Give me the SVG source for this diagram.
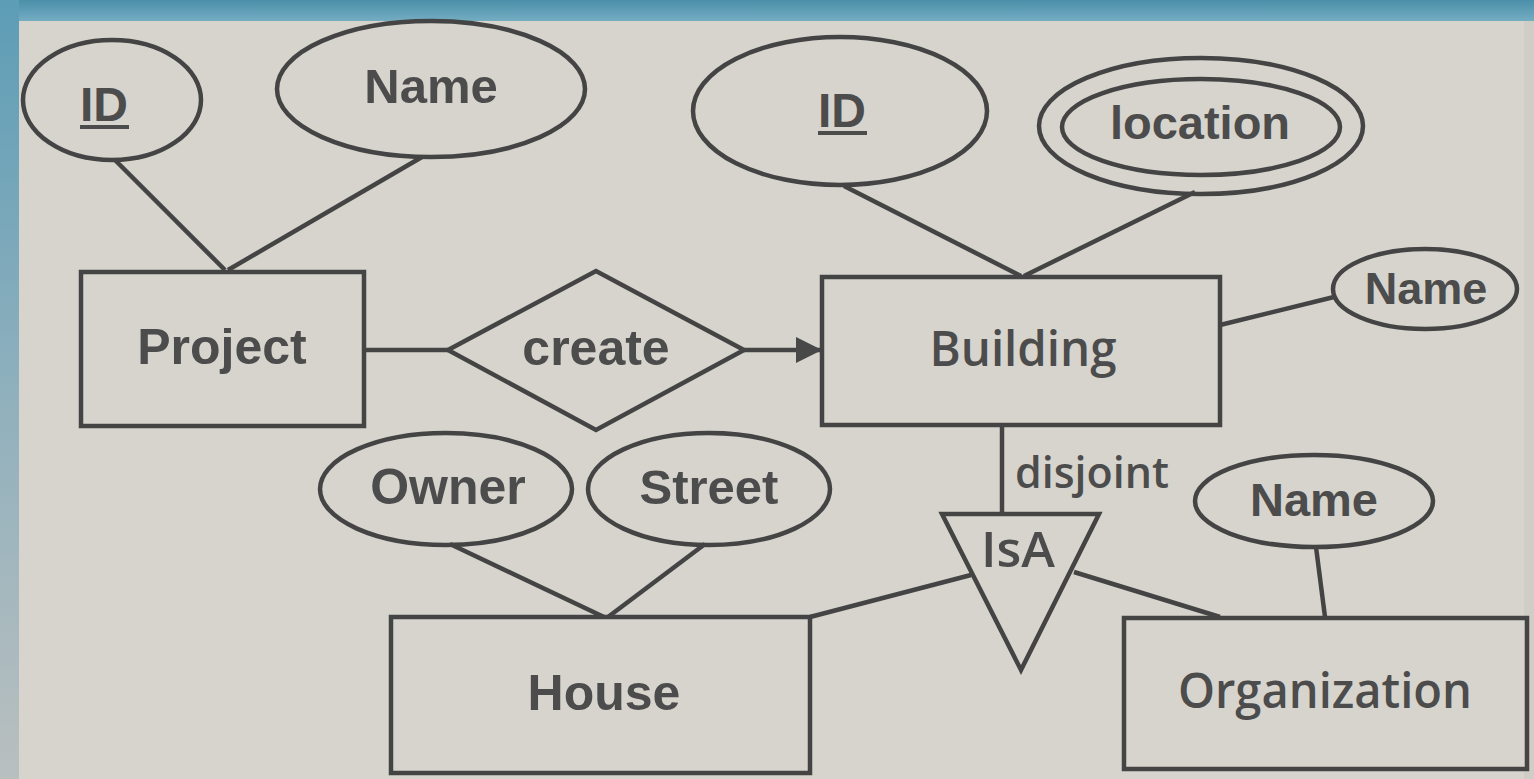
<svg xmlns="http://www.w3.org/2000/svg" width="1534" height="779" viewBox="0 0 1534 779">
  <defs>
    <linearGradient id="leftBand" x1="0" y1="0" x2="0" y2="1">
      <stop offset="0" stop-color="#5d9db6"/>
      <stop offset="0.5" stop-color="#8fb0bd"/>
      <stop offset="1" stop-color="#b9bfbf"/>
    </linearGradient>
    <linearGradient id="topBand" x1="0" y1="0" x2="0" y2="1">
      <stop offset="0" stop-color="#4b8fa9"/>
      <stop offset="1" stop-color="#74adc2"/>
    </linearGradient>
    <marker id="arrow" viewBox="0 0 26 26" refX="26" refY="13" markerWidth="26" markerHeight="26" markerUnits="userSpaceOnUse" orient="auto">
      <path d="M0,0 L26,13 L0,26 Z" fill="#484848"/>
    </marker>
    <style>
      .shape { fill: none; stroke: #444444; stroke-width: 4.5; }
      .conn { fill: none; stroke: #444444; stroke-width: 4.5; }
      .lbl { font-family: "Liberation Sans", Arial, sans-serif; font-weight: bold; fill: #4c4c4c; text-anchor: middle; }
      .lbl2 { font-family: "Open Sans", "Noto Sans", sans-serif; font-weight: 600; fill: #4c4c4c; text-anchor: middle; }
      .ul { stroke: #4c4c4c; stroke-width: 4; }
    </style>
  </defs>

  <!-- background -->
  <rect x="0" y="0" width="1534" height="779" fill="#d7d4ce"/>
  <rect x="0" y="0" width="1534" height="21" fill="url(#topBand)"/>
  <rect x="0" y="0" width="19" height="779" fill="url(#leftBand)"/>
  <rect x="1524" y="21" width="10" height="758" fill="#d0cdc7"/>

  <!-- connectors -->
  <g id="connectors">
    <line class="conn" x1="115" y1="160" x2="225" y2="270"/>
    <line class="conn" x1="422" y1="157" x2="228" y2="270"/>
    <line class="conn" x1="365" y1="350" x2="448" y2="350"/>
    <line class="conn" x1="744" y1="350" x2="822" y2="350" marker-end="url(#arrow)"/>
    <line class="conn" x1="844" y1="186" x2="1021" y2="276"/>
    <line class="conn" x1="1195" y1="192" x2="1024" y2="276"/>
    <line class="conn" x1="1220" y1="325" x2="1334" y2="297"/>
    <line class="conn" x1="1002" y1="425" x2="1002" y2="514"/>
    <line class="conn" x1="971" y1="575" x2="810" y2="617"/>
    <line class="conn" x1="1074" y1="572" x2="1220" y2="617"/>
    <line class="conn" x1="1316" y1="547" x2="1325" y2="617"/>
    <line class="conn" x1="450" y1="544" x2="604" y2="617"/>
    <line class="conn" x1="705" y1="544" x2="608" y2="617"/>
  </g>

  <!-- Project -->
  <g id="project">
    <rect class="shape" x="81" y="272" width="283" height="154"/>
    <text class="lbl" x="222" y="364" font-size="50">Project</text>
  </g>
  <g id="project-id">
    <ellipse class="shape" cx="112" cy="100" rx="89" ry="60"/>
    <text class="lbl" x="104" y="121" font-size="48">ID</text>
    <line class="ul" x1="80" y1="127" x2="129" y2="127"/>
  </g>
  <g id="project-name">
    <ellipse class="shape" cx="431" cy="89" rx="154" ry="68"/>
    <text class="lbl" x="431" y="103" font-size="49">Name</text>
  </g>

  <!-- create -->
  <g id="create">
    <polygon class="shape" points="448,350 596,271 744,350 596,430"/>
    <text class="lbl" x="596" y="365" font-size="50">create</text>
  </g>

  <!-- Building -->
  <g id="building">
    <rect class="shape" x="822" y="277" width="398" height="148"/>
    <text class="lbl2" x="1023" y="366" font-size="48" textLength="187" lengthAdjust="spacingAndGlyphs">Building</text>
  </g>
  <g id="building-id">
    <ellipse class="shape" cx="840" cy="111" rx="147" ry="74"/>
    <text class="lbl" x="842" y="127" font-size="48">ID</text>
    <line class="ul" x1="818" y1="133" x2="867" y2="133"/>
  </g>
  <g id="building-location">
    <ellipse class="shape" cx="1201" cy="126" rx="162" ry="68"/>
    <ellipse class="shape" cx="1201" cy="127" rx="139" ry="48"/>
    <text class="lbl" x="1200" y="139" font-size="47">location</text>
  </g>
  <g id="building-name">
    <ellipse class="shape" cx="1425" cy="289" rx="92" ry="40"/>
    <text class="lbl" x="1426" y="304" font-size="45">Name</text>
  </g>

  <!-- IsA -->
  <g id="isa">
    <polygon class="shape" points="942,514 1099,514 1021,670"/>
    <text class="lbl2" x="1018" y="567" font-size="48" textLength="74" lengthAdjust="spacingAndGlyphs">IsA</text>
    <text class="lbl2" x="1092" y="488" font-size="44" textLength="154" lengthAdjust="spacingAndGlyphs">disjoint</text>
  </g>

  <!-- House -->
  <g id="house">
    <rect class="shape" x="391" y="617" width="419" height="156"/>
    <text class="lbl" x="604" y="710" font-size="50">House</text>
  </g>
  <g id="house-owner">
    <ellipse class="shape" cx="446" cy="489" rx="126" ry="56"/>
    <text class="lbl" x="448" y="504" font-size="50">Owner</text>
  </g>
  <g id="house-street">
    <ellipse class="shape" cx="709" cy="489" rx="121" ry="56"/>
    <text class="lbl" x="709" y="504" font-size="49">Street</text>
  </g>

  <!-- Organization -->
  <g id="organization">
    <rect class="shape" x="1124" y="618" width="403" height="151"/>
    <text class="lbl2" x="1325" y="708" font-size="48" textLength="294" lengthAdjust="spacingAndGlyphs">Organization</text>
  </g>
  <g id="organization-name">
    <ellipse class="shape" cx="1314" cy="501" rx="119" ry="46"/>
    <text class="lbl" x="1314" y="516" font-size="47">Name</text>
  </g>
</svg>
